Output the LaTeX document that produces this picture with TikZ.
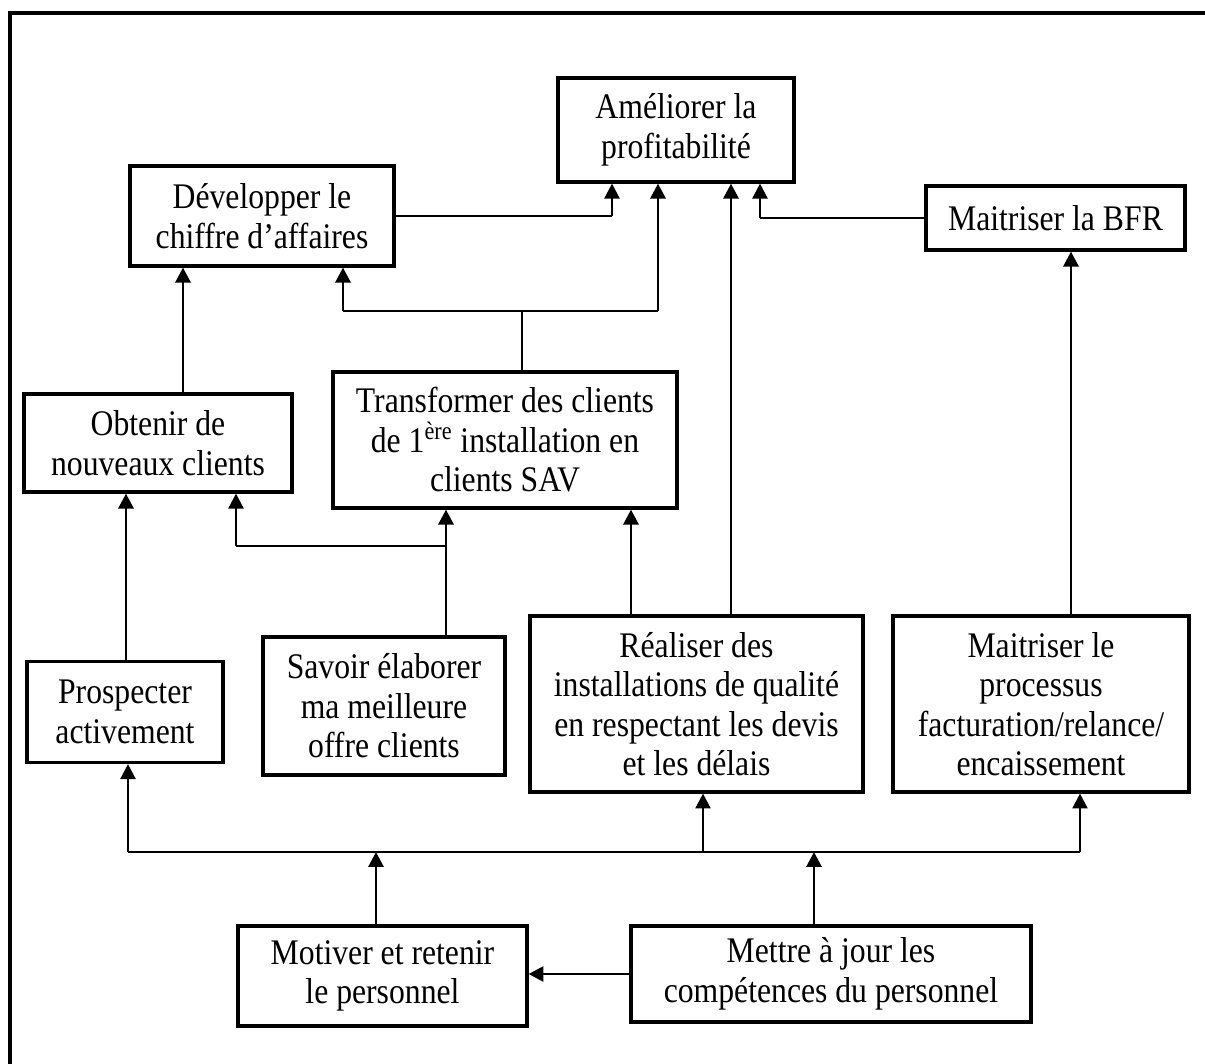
\documentclass[tikz,border=0pt]{standalone}
\usepackage{fontspec}
\setmainfont{Liberation Serif}[FakeStretch=0.88]
\usepackage{tikz}
\usetikzlibrary{arrows.meta}
\tikzset{
  obj box/.style={
    rectangle,
    draw=black,
    line width=1.8pt,
    align=center,
    inner sep=2pt,
    font=\fontsize{20.5}{22.5}\selectfont,
  },
  obj arrow/.style={-{Triangle[length=8.5pt,width=8.5pt]}, line width=1.7pt},
  obj stub/.style={-{Triangle[length=8.5pt,width=8.5pt]}, line width=1.4pt},
  obj line/.style={line width=0.9pt},
  obj frame/.style={line width=2.2pt},
}

\begin{document}
\begin{tikzpicture}[x=0.02cm,y=-0.02cm]
  \useasboundingbox (0,0) rectangle (1205,1064);
  \coordinate (corner) at (10,13);
  \coordinate (top end) at (1205,13);
  \coordinate (left end) at (10,1064);
  \draw[obj frame] (top end) -- (corner) -- (left end);

  \node[obj box,minimum width=4.72cm,minimum height=2.08cm] (profit) at (676,130) {Améliorer la\\profitabilité};
  \node[obj box,minimum width=5.28cm,minimum height=2cm] (ca) at (262,216) {Développer le\\chiffre d’affaires};
  \node[obj box,minimum width=5.18cm,minimum height=1.28cm] (bfr) at (1055.5,218) {Maitriser la BFR};

  \node[obj box,minimum width=5.36cm,minimum height=1.96cm] (newcli) at (158,443) {Obtenir de\\nouveaux clients};
  \node[obj box,minimum width=6.88cm,minimum height=2.72cm] (sav) at (505,440) {Transformer des clients\\de 1\textsuperscript{ère} installation en\\clients SAV};

  \node[obj box,minimum width=3.92cm,minimum height=2.02cm] (prosp) at (125,712) {Prospecter\\activement};
  \node[obj box,minimum width=4.84cm,minimum height=2.76cm] (offer) at (384,706) {Savoir élaborer\\ma meilleure\\offre clients};
  \node[obj box,minimum width=6.66cm,minimum height=3.52cm] (quality) at (696.5,704) {Réaliser des\\installations de qualité\\en respectant les devis\\et les délais};
  \node[obj box,minimum width=5.92cm,minimum height=3.52cm] (billing) at (1041,704) {Maitriser le\\processus\\facturation/relance/\\encaissement};

  \node[obj box,minimum width=5.78cm,minimum height=2cm] (motiv) at (382.5,976) {Motiver et retenir\\le personnel};
  \node[obj box,minimum width=8cm,minimum height=1.92cm] (skills) at (831,974) {Mettre à jour les\\compétences du personnel};

  % up to the profit
  \coordinate (k ca) at (612,216);
  \coordinate (k bfr) at (760,218);
  \draw[obj line] (ca.east) -- (k ca);
  \draw[obj stub] (k ca) -- (k ca |- profit.south);
  \draw[obj line] (bfr.west) -- (k bfr);
  \draw[obj stub] (k bfr) -- (k bfr |- profit.south);

  \coordinate (j ca) at (343,311);
  \coordinate (j sav) at (522,311);
  \coordinate (j profit) at (658,311);
  \draw[obj line] (j ca) -- (j profit);
  \draw[obj line] (sav.north -| j sav) -- (j sav);
  \draw[obj arrow] (j ca) -- (j ca |- ca.south);
  \draw[obj arrow] (j profit) -- (j profit |- profit.south);

  \coordinate (col q) at (731,400);
  \draw[obj arrow] (col q |- quality.north) -- (col q |- profit.south);
  \coordinate (col bfr) at (1071,400);
  \draw[obj arrow] (col bfr |- billing.north) -- (col bfr |- bfr.south);

  % middle row
  \coordinate (col new) at (183,300);
  \draw[obj arrow] (col new |- newcli.north) -- (col new |- ca.south);
  \coordinate (col prosp) at (126,600);
  \draw[obj arrow] (col prosp |- prosp.north) -- (col prosp |- newcli.south);

  \coordinate (j new) at (236,546);
  \coordinate (j offer) at (446,546);
  \draw[obj line] (j offer) -- (j new);
  \draw[obj stub] (j new) -- (j new |- newcli.south);
  \draw[obj arrow] (j offer |- offer.north) -- (j offer |- sav.south);
  \coordinate (col qsav) at (631,560);
  \draw[obj arrow] (col qsav |- quality.north) -- (col qsav |- sav.south);

  % bottom bus
  \coordinate (b prosp) at (128,852);
  \coordinate (b quality) at (703,852);
  \coordinate (b billing) at (1080,852);
  \coordinate (b motiv) at (376,852);
  \coordinate (b skills) at (814,852);
  \draw[obj line] (b prosp) -- (b billing);
  \draw[obj stub] (b prosp) -- (b prosp |- prosp.south);
  \draw[obj stub] (b quality) -- (b quality |- quality.south);
  \draw[obj stub] (b billing) -- (b billing |- billing.south);
  \draw[obj arrow] (b motiv |- motiv.north) -- (b motiv);
  \draw[obj arrow] (b skills |- skills.north) -- (b skills);
  \draw[obj arrow] (skills.west) -- (skills.west -| motiv.east);
\end{tikzpicture}
\end{document}
